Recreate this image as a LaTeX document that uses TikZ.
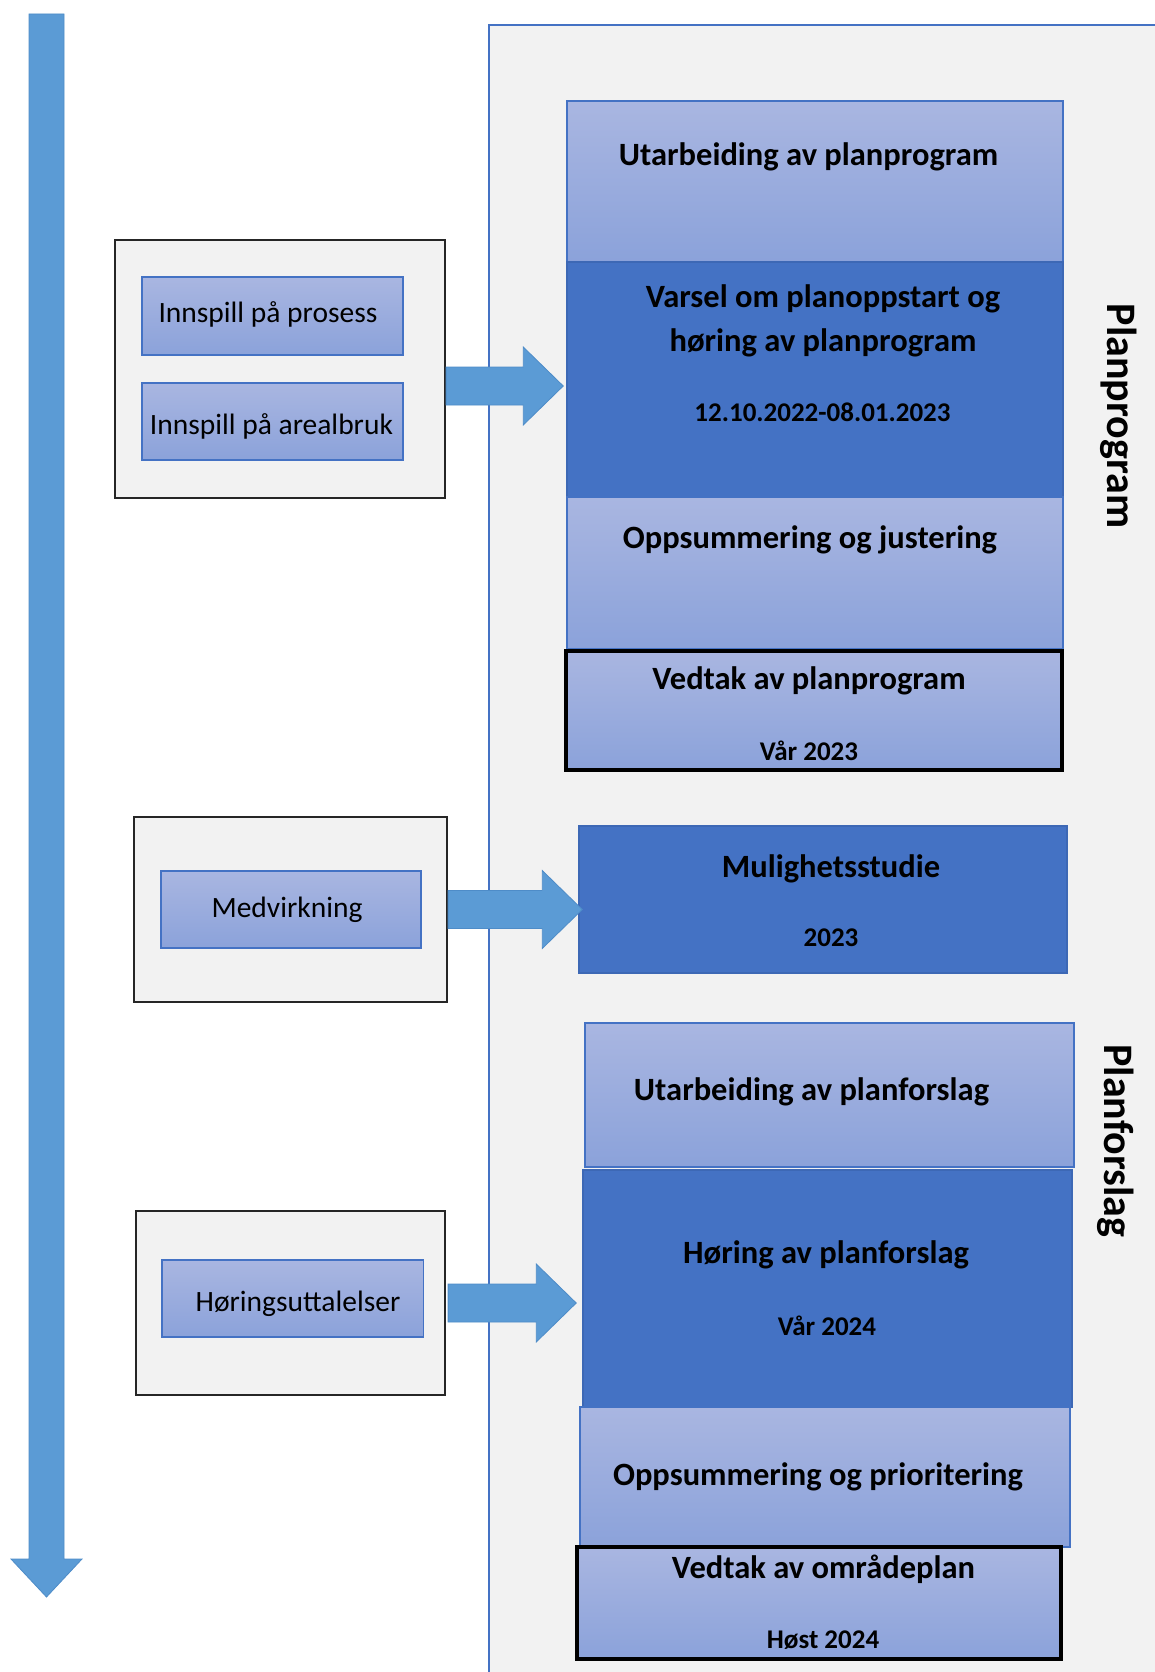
\documentclass[tikz,border=0pt]{standalone}
\usepackage{fontspec}
\setmainfont{Carlito}
\usetikzlibrary{calc}
\definecolor{accent}{HTML}{4472C4}
\definecolor{accentdk}{HTML}{3D68B5}
\definecolor{lighttop}{HTML}{A9B6E1}
\definecolor{lightbot}{HTML}{8BA2DA}
\definecolor{panelbg}{HTML}{F2F2F2}
\definecolor{arrowblue}{HTML}{5B9BD5}
\definecolor{arrowedge}{HTML}{4E8CC8}
\newcommand\myblockarrow[2]{%
  \draw[blockarr] ($(#1)+(0,-19)$) -- ($(#2)+(-40,-19)$) -- ($(#2)+(-40,-39)$) -- (#2)
    -- ($(#2)+(-40,39)$) -- ($(#2)+(-40,19)$) -- ($(#1)+(0,19)$) -- cycle;}
\begin{document}
\begin{tikzpicture}[x=1pt,y=-1pt,
  lightbox/.style={draw=accent, line width=1.5pt, top color=lighttop, bottom color=lightbot, inner sep=0pt},
  darkbox/.style={draw=accentdk, line width=1.5pt, fill=accent, inner sep=0pt},
  decisionbox/.style={draw=black, line width=4pt, top color=lighttop, bottom color=lightbot, inner sep=0pt},
  groupbox/.style={draw=black!85, line width=2.2pt, fill=panelbg, inner sep=0pt},
  blockarr/.style={fill=arrowblue, draw=arrowedge, line width=0.8pt, line join=miter},
  hd/.style={font=\fontsize{32.5}{39}\selectfont\bfseries, anchor=base, inner sep=0pt},
  sm/.style={font=\fontsize{27}{32}\selectfont\bfseries, anchor=base, inner sep=0pt},
  lt/.style={font=\fontsize{29.5}{35}\selectfont, anchor=base, inner sep=0pt},
  side/.style={font=\fontsize{42}{50}\selectfont\bfseries, rotate=-90, inner sep=0pt}
]
\useasboundingbox (0,0) rectangle (1155,1672);
\fill[white] (0,0) rectangle (1155,1672);

% panel
\fill[panelbg] (489,25) rectangle (1155,1672);
\draw[accent, line width=1.5pt] (489,1672) -- (489,25) -- (1155,25);

% timeline arrow
\coordinate (tlTop) at (46.5,14);
\coordinate (tlTip) at (46.5,1597);
\draw[blockarr] ($(tlTop)+(-17.5,0)$) -- ($(tlTip)+(-17.5,-38)$) -- ($(tlTip)+(-35.5,-38)$) -- (tlTip)
  -- ($(tlTip)+(35.5,-38)$) -- ($(tlTip)+(17.5,-38)$) -- ($(tlTop)+(17.5,0)$) -- cycle;

% Planprogram column
\node[lightbox, minimum width=496pt, minimum height=161pt] (ppA) at (815,181.5) {};
\node[darkbox, minimum width=496pt, minimum height=235pt] (ppB) at (815,379.5) {};
\node[lightbox, minimum width=496pt, minimum height=152pt] (ppC) at (815,573) {};
\node[decisionbox, minimum width=496pt, minimum height=119pt] (ppD) at (814,710.5) {};

\node[hd] (tA) at (808.5,166) {Utarbeiding av planprogram};
\node[hd] (tB1) at (823,307) {Varsel om planoppstart og};
\node[hd] (tB2) at (823,351) {høring av planprogram};
\node[sm] (tB3) at (822.5,421) {12.10.2022-08.01.2023};
\node[hd] (tC) at (810,548) {Oppsummering og justering};
\node[hd] (tD1) at (809,689) {Vedtak av planprogram};
\node[sm] (tD2) at (809,760) {Vår 2023};

\node[side] (sPP) at (1119,416) {Planprogram};

% Mulighetsstudie
\node[darkbox, minimum width=488pt, minimum height=147pt] (mul) at (823,899.5) {};
\node[hd] (tM1) at (831,877) {Mulighetsstudie};
\node[sm] (tM2) at (831,946) {2023};

% Planforslag column
\node[lightbox, minimum width=489pt, minimum height=144pt] (pfA) at (829.5,1095) {};
\node[darkbox, minimum width=489pt, minimum height=237pt] (pfB) at (827.5,1288.5) {};
\node[lightbox, minimum width=490pt, minimum height=140pt] (pfC) at (825,1477) {};
\node[decisionbox, minimum width=484pt, minimum height=112pt] (pfD) at (819,1603) {};

\node[hd] (tF1) at (811.5,1100) {Utarbeiding av planforslag};
\node[hd] (tF2) at (826,1263) {Høring av planforslag};
\node[sm] (tF3) at (827,1335) {Vår 2024};
\node[hd] (tF4) at (818,1485) {Oppsummering og prioritering};
\node[hd] (tF5) at (823.5,1578) {Vedtak av områdeplan};
\node[sm] (tF6) at (823,1648) {Høst 2024};

\node[side] (sPF) at (1116,1141) {Planforslag};

% left groups
\node[groupbox, minimum width=330pt, minimum height=258pt] (b1) at (280,369) {};
\node[lightbox, minimum width=261pt, minimum height=78pt] (i1) at (272.5,316) {};
\node[lightbox, minimum width=261pt, minimum height=77pt] (i2) at (272.5,421.5) {};
\node[lt] (l1) at (268,322.5) {Innspill på prosess};
\node[lt] (l2) at (271.5,434) {Innspill på arealbruk};

\node[groupbox, minimum width=313pt, minimum height=185pt] (b2) at (290.5,909.5) {};
\node[lightbox, minimum width=260pt, minimum height=77pt] (i3) at (291,909.5) {};
\node[lt] (l3) at (287,917.5) {Medvirkning};

\node[groupbox, minimum width=309pt, minimum height=184pt] (b3) at (290.5,1303) {};
\node[lightbox, minimum width=261.5pt, minimum height=77pt] (i4) at (292.5,1298.5) {};
\node[lt] (l4) at (298,1311) {Høringsuttalelser};

% block arrows
\coordinate (a1s) at ([yshift=-17pt]b1.east);
\coordinate (a1t) at ([xshift=-3pt]ppB.west |- a1s);
\myblockarrow{a1s}{a1t}
\coordinate (a2s) at (b2.east);
\coordinate (a2t) at ([xshift=4pt]mul.west |- a2s);
\myblockarrow{a2s}{a2t}
\coordinate (a3s) at ([xshift=2pt]b3.east);
\coordinate (a3t) at ([xshift=-6pt]pfB.west |- a3s);
\myblockarrow{a3s}{a3t}
\end{tikzpicture}
\end{document}
